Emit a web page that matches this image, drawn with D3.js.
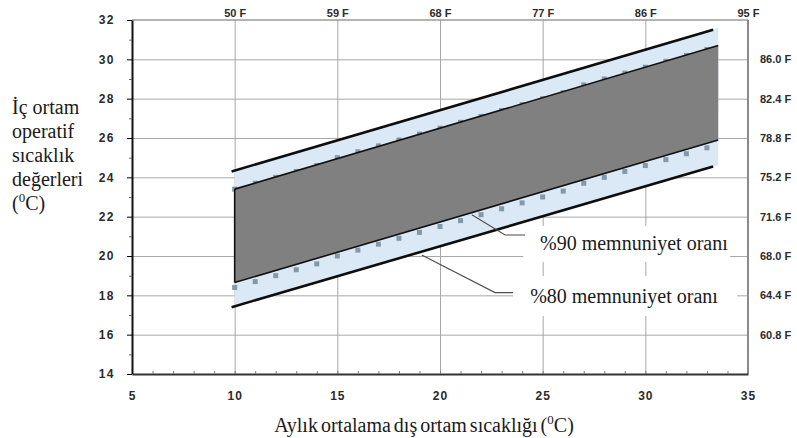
<!DOCTYPE html>
<html>
<head>
<meta charset="utf-8">
<script src="https://cdn.jsdelivr.net/npm/d3@7"></script>
<style>
  body { margin: 0; background: #fff; }
  .ticks text { font-family: "Liberation Sans", Arial, sans-serif; font-weight: bold; font-size: 11px; fill: #2b2b2b; }
  .grid line { stroke: #a8a8a8; stroke-width: 1; }
  .grid path { display: none; }
</style>
</head>
<body>
<div id="wrapper"></div>
<script>
//1 - data
const xTicks = [5, 10, 15, 20, 25, 30, 35];
const yTicks = [14, 16, 18, 20, 22, 24, 26, 28, 30, 32];
const gridX = [10, 15, 20, 25, 30];
const gridY = [16, 18, 20, 22, 24, 26, 28, 30];

const topTickValues = [10, 15, 20, 25, 30, 35];
const topLabels = ['50 F', '59 F', '68 F', '77 F', '86 F', '95 F'];
const rightTickValues = [16, 18, 20, 22, 24, 26, 28, 30];
const rightLabels = ['60.8 F', '64.4 F', '68.0 F', '71.6 F', '75.2 F', '78.8 F', '82.4 F', '86.0 F'];

// %80 limits (black lines)
const line80X = [9.85, 33.3];
const line80Upper = [24.3, 31.5];
const line80Lower = [17.4, 24.55];

// light blue band behind
const bandX = [10, 33.55];
const bandUpper = [24.35, 31.6];
const bandLower = [17.45, 24.6];

// %90 area (dark)
const area90X = [10, 33.55];
const area90Upper = [23.4, 30.7];
const area90Lower = [18.65, 25.9];

// square markers
const markerX = [10, 11, 12, 13, 14, 15, 16, 17, 18, 19, 20, 21, 22, 23, 24, 25, 26, 27, 28, 29, 30, 31, 32, 33];
const markerUpper = [23.4, 23.7, 24.0, 24.3, 24.6, 25.0, 25.3, 25.6, 25.9, 26.2, 26.5, 26.8, 27.1, 27.4, 27.7, 28.0, 28.3, 28.7, 29.0, 29.3, 29.6, 29.9, 30.2, 30.5];
const markerLower = [18.4, 18.7, 19.0, 19.3, 19.6, 20.0, 20.3, 20.6, 20.9, 21.2, 21.5, 21.8, 22.1, 22.4, 22.7, 23.0, 23.3, 23.7, 24.0, 24.3, 24.6, 24.9, 25.2, 25.5];

const yTitle = ['İç ortam', 'operatif', 'sıcaklık', 'değerleri'];

const serifFont = '"Liberation Serif", "Times New Roman", Times, serif';

//2 - dimensions
const dimensions = {
  width: 797,
  height: 438,
  margin: { top: 20, right: 49, bottom: 64, left: 132 }
};
dimensions.boundW = dimensions.width - dimensions.margin.left - dimensions.margin.right;
dimensions.boundH = dimensions.height - dimensions.margin.top - dimensions.margin.bottom;

//3 - canvas
const svg = d3.select('#wrapper').append('svg')
  .attr('width', dimensions.width)
  .attr('height', dimensions.height);

const bounds = svg.append('g')
  .attr('transform', `translate(${dimensions.margin.left},${dimensions.margin.top})`);

//scales
const xScale = d3.scaleLinear().domain([5, 35]).range([0, dimensions.boundW]);
const yScale = d3.scaleLinear().domain([14, 32]).range([dimensions.boundH, 0]);

//grid
bounds.append('g')
  .attr('class', 'grid')
  .attr('transform', `translate(0,${dimensions.boundH})`)
  .call(d3.axisBottom(xScale).tickValues(gridX).tickSize(-dimensions.boundH).tickFormat(''));

bounds.append('g')
  .attr('class', 'grid')
  .call(d3.axisLeft(yScale).tickValues(gridY).tickSize(-dimensions.boundW).tickFormat(''));

// top and right frame
bounds.append('line')
  .attr('x1', 0).attr('x2', dimensions.boundW)
  .attr('y1', 0).attr('y2', 0)
  .attr('stroke', '#9a9a9a').attr('stroke-width', 1.5);
bounds.append('line')
  .attr('x1', dimensions.boundW).attr('x2', dimensions.boundW)
  .attr('y1', 0).attr('y2', dimensions.boundH)
  .attr('stroke', '#8a8a8a').attr('stroke-width', 2);

//draw data
const band = bandX.map((x, i) => ({ x, lo: bandLower[i], hi: bandUpper[i] }));
const areaGenerator = d3.area()
  .x(d => xScale(d.x))
  .y0(d => yScale(d.lo))
  .y1(d => yScale(d.hi));

bounds.append('path')
  .attr('d', areaGenerator(band))
  .attr('fill', '#dbe8f6');

const lineGenerator = d3.line()
  .x(d => xScale(d[0]))
  .y(d => yScale(d[1]));

[line80Upper, line80Lower].forEach(ys => {
  bounds.append('path')
    .attr('d', lineGenerator(line80X.map((x, i) => [x, ys[i]])))
    .attr('fill', 'none')
    .attr('stroke', '#0d0d0d')
    .attr('stroke-width', 2.6);
});

// square markers
[markerUpper, markerLower].forEach(ys => {
  bounds.append('g')
    .selectAll('rect')
    .data(markerX.map((x, i) => [x, ys[i]]))
    .join('rect')
    .attr('x', d => xScale(d[0]) - 2.5)
    .attr('y', d => yScale(d[1]) - 2.5)
    .attr('width', 5)
    .attr('height', 5)
    .attr('fill', '#8299a8');
});

// dark %90 area
const dark = area90X.map((x, i) => ({ x, lo: area90Lower[i], hi: area90Upper[i] }));
bounds.append('path')
  .attr('d', areaGenerator(dark))
  .attr('fill', '#808080');

[area90Upper, area90Lower].forEach(ys => {
  bounds.append('path')
    .attr('d', lineGenerator(area90X.map((x, i) => [x, ys[i]])))
    .attr('fill', 'none')
    .attr('stroke', '#111')
    .attr('stroke-width', 1.6);
});
bounds.append('path')
  .attr('d', lineGenerator([[area90X[0], area90Upper[0]], [area90X[0], area90Lower[0]]]))
  .attr('stroke', '#111')
  .attr('stroke-width', 1.6);

//annotations (leader + label on white box)
const notes = [
  { text: '%90 memnuniyet oranı', leader: [[21.55, 22.1], [23.17, 21.07], [24.14, 21.07]],
    box: [24.05, 34.13, 21.53, 19.7], at: [24.87, 20.3] },
  { text: '%80 memnuniyet oranı', leader: [[19.11, 20.05], [22.68, 18.14], [23.56, 18.14]],
    box: [23.56, 34.47, 18.98, 16.95], at: [24.39, 17.6] }
];

notes.forEach(n => {
  bounds.append('rect')
    .attr('x', xScale(n.box[0]))
    .attr('y', yScale(n.box[2]))
    .attr('width', xScale(n.box[1]) - xScale(n.box[0]))
    .attr('height', yScale(n.box[3]) - yScale(n.box[2]))
    .attr('fill', '#fff');
  bounds.append('path')
    .attr('d', lineGenerator(n.leader))
    .attr('fill', 'none')
    .attr('stroke', '#4d4d4d')
    .attr('stroke-width', 1.1);
  bounds.append('text')
    .attr('x', xScale(n.at[0]))
    .attr('y', yScale(n.at[1]))
    .style('font-family', serifFont)
    .style('font-size', '20px')
    .style('fill', '#1a1a1a')
    .text(n.text);
});

//draw peripherals
const yAxis = bounds.append('g')
  .attr('class', 'ticks')
  .call(d3.axisLeft(yScale).tickValues(yTicks).tickSize(5).tickSizeOuter(0).tickPadding(12));
yAxis.select('.domain').attr('stroke', '#111').attr('stroke-width', 2);
yAxis.selectAll('text').style('font-size', '12px').style('letter-spacing', '1.5px');

// minor ticks
bounds.append('g')
  .call(d3.axisLeft(yScale).tickValues(d3.range(15, 32, 2)).tickSize(3).tickFormat(''))
  .call(g => g.select('.domain').remove())
  .selectAll('line').attr('stroke', '#666');

const xAxis = bounds.append('g')
  .attr('class', 'ticks')
  .attr('transform', `translate(0,${dimensions.boundH})`)
  .call(d3.axisBottom(xScale).tickValues(xTicks).tickSize(0).tickSizeOuter(0).tickPadding(17));
xAxis.select('.domain').attr('stroke', '#333').attr('stroke-width', 2);
xAxis.selectAll('text').style('font-size', '12px').style('letter-spacing', '1px');

bounds.append('g')
  .attr('transform', `translate(0,${dimensions.boundH})`)
  .call(d3.axisBottom(xScale).tickValues(d3.range(6, 35)).tickSize(-3).tickFormat(''))
  .call(g => g.select('.domain').remove())
  .selectAll('line').attr('stroke', '#777');

const topAxis = bounds.append('g')
  .attr('class', 'ticks')
  .call(d3.axisTop(xScale).tickValues(topTickValues).tickSize(0).tickPadding(3)
    .tickFormat((d, i) => topLabels[i]));
topAxis.select('.domain').remove();

const rightAxis = bounds.append('g')
  .attr('class', 'ticks')
  .attr('transform', `translate(${dimensions.boundW},0)`)
  .call(d3.axisRight(yScale).tickValues(rightTickValues).tickSize(0).tickPadding(12)
    .tickFormat((d, i) => rightLabels[i]));
rightAxis.select('.domain').remove();

// axis titles
const yTitleText = svg.append('text')
  .style('font-family', serifFont)
  .style('font-size', '20px')
  .style('fill', '#1a1a1a');
yTitle.forEach((t, i) => {
  yTitleText.append('tspan').attr('x', 12).attr('y', 114 + i * 24).text(t);
});
const unitLine = yTitleText.append('tspan').attr('x', 12).attr('y', 114 + 4 * 24);
unitLine.append('tspan').text('(');
unitLine.append('tspan').attr('dy', -8).style('font-size', '13px').text('0');
unitLine.append('tspan').attr('dy', 8).text('C)');

const xTitle = svg.append('text')
  .attr('x', 424)
  .attr('y', 432)
  .attr('text-anchor', 'middle')
  .style('font-family', serifFont)
  .style('font-size', '20px')
  .style('fill', '#1a1a1a')
  .style('word-spacing', '-2px');
xTitle.append('tspan').text('Aylık ortalama dış ortam sıcaklığı (');
xTitle.append('tspan').attr('dy', -8).style('font-size', '13px').text('0');
xTitle.append('tspan').attr('dy', 8).text('C)');
</script>
</body>
</html>
